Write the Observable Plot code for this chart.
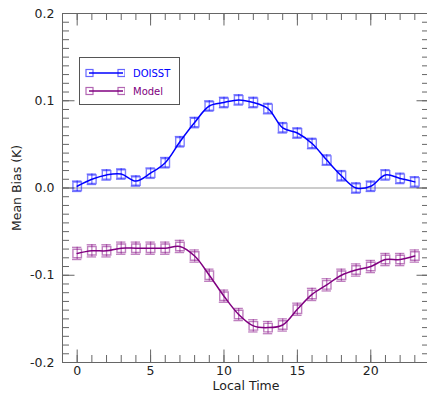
<!DOCTYPE html>
<html>
<head>
<meta charset="utf-8">
<script src="https://cdn.jsdelivr.net/npm/d3@7"></script>
<script src="https://cdn.jsdelivr.net/npm/@observablehq/plot@0.6"></script>
<style>
  html, body { margin: 0; padding: 0; background: #fff; overflow: hidden; }
  #wrap { position: relative; width: 427px; height: 397px; }
  #legend { position: absolute; left: 79px; top: 57px; width: 99px; height: 46px;
    border: 1px solid #555; background: #fff; font-family: "DejaVu Sans", sans-serif; font-size: 10px; }
  .row { position: absolute; left: 0; height: 12px; display: flex; align-items: center; }
  .row svg { display: block; }
  .row span { margin-left: 8px; }
</style>
</head>
<body>
<div id="wrap"></div>
<script>
const hours = [0,1,2,3,4,5,6,7,8,9,10,11,12,13,14,15,16,17,18,19,20,21,22,23];
const doisst = [0.002,0.010,0.015,0.016,0.008,0.017,0.029,0.053,0.075,0.094,0.098,0.101,0.098,0.091,0.069,0.063,0.051,0.032,0.014,0.000,0.002,0.015,0.011,0.007];
const model = [-0.075,-0.072,-0.072,-0.069,-0.069,-0.069,-0.069,-0.067,-0.078,-0.100,-0.124,-0.145,-0.158,-0.160,-0.157,-0.139,-0.122,-0.111,-0.100,-0.094,-0.090,-0.082,-0.082,-0.078];
const doisstErr = 0.006;
const modelErr = 0.007;
const seriesNames = ["DOISST", "Model"];
const seriesColors = ["#0000ff", "#800080"];
const yMajor = [-0.2,-0.1,0,0.1,0.2];
const yMinor = d3.range(-20, 21).map(i => i / 100);
const xMajor = [0,5,10,15,20];
const xMinor = hours;

const W = 427, H = 397, mL = 62, mR = -2, mT = 13, mB = 35;
const fw = W - mL - mR, fh = H - mT - mB;
const majLen = 12.5, minLen = 7;

const ds = hours.map((h, i) => ({h, v: doisst[i], e: doisstErr}));
const ms = hours.map((h, i) => ({h, v: model[i], e: modelErr}));
const capHalf = 0.32;
const tickColor = "#666";

function seriesMarks(data, color) {
  return [
    Plot.ruleX(data, {x: "h", y1: d => d.v - d.e, y2: d => d.v + d.e, stroke: color, strokeOpacity: 0.5, strokeWidth: 1.3}),
    Plot.ruleY(data, {y: d => d.v - d.e, x1: d => d.h - capHalf, x2: d => d.h + capHalf, stroke: color, strokeOpacity: 0.5, strokeWidth: 1.3}),
    Plot.ruleY(data, {y: d => d.v + d.e, x1: d => d.h - capHalf, x2: d => d.h + capHalf, stroke: color, strokeOpacity: 0.5, strokeWidth: 1.3}),
    Plot.dot(data, {x: "h", y: "v", symbol: "square", r: 4.8, stroke: color, strokeOpacity: 0.5, strokeWidth: 1.4, fill: "none"}),
    Plot.line(data, {x: "h", y: "v", stroke: color, strokeWidth: 1.5, curve: "catmull-rom"})
  ];
}

const chart = Plot.plot({
  width: W, height: H,
  marginLeft: mL, marginRight: mR, marginTop: mT, marginBottom: mB,
  style: {fontFamily: "DejaVu Sans, sans-serif", fontSize: "12px", color: "#222", background: "#fff"},
  x: {domain: [-1, 24]},
  y: {domain: [-0.2, 0.2]},
  marks: [
    Plot.ruleY([0], {stroke: "#999", strokeWidth: 1}),
    Plot.tickY(yMinor, {y: d => d, insetRight: fw - minLen, stroke: tickColor}),
    Plot.tickY(yMajor, {y: d => d, insetRight: fw - majLen, stroke: tickColor}),
    Plot.tickY(yMinor, {y: d => d, insetLeft: fw - minLen, stroke: tickColor}),
    Plot.tickY(yMajor, {y: d => d, insetLeft: fw - majLen, stroke: tickColor}),
    Plot.tickX(xMinor, {x: d => d, insetBottom: fh - minLen, stroke: tickColor}),
    Plot.tickX(xMajor, {x: d => d, insetBottom: fh - majLen, stroke: tickColor}),
    Plot.tickX(xMinor, {x: d => d, insetTop: fh - minLen, stroke: tickColor}),
    Plot.tickX(xMajor, {x: d => d, insetTop: fh - majLen, stroke: tickColor}),
    Plot.axisY(yMajor, {anchor: "left", tickSize: 0, tickPadding: 8, tickFormat: d => d.toFixed(1), label: null, fontSize: 12.5}),
    Plot.axisX(xMajor, {anchor: "bottom", tickSize: 0, tickPadding: 4, tickFormat: d => String(d), label: null, fontSize: 12.5}),
    Plot.text(["Mean Bias (K)"], {frameAnchor: "left", dx: -46, rotate: -90, textAnchor: "middle", lineAnchor: "middle", fontSize: 12.5, fill: "#222"}),
    Plot.text(["Local Time"], {frameAnchor: "bottom", dy: 23, textAnchor: "middle", lineAnchor: "middle", fontSize: 12.5, fill: "#222"}),
    ...seriesMarks(ms, seriesColors[1]),
    ...seriesMarks(ds, seriesColors[0]),
    Plot.frame({stroke: "#666"})
  ]
});

const wrap = document.getElementById("wrap");
wrap.appendChild(chart);

const legend = document.createElement("div");
legend.id = "legend";
seriesNames.forEach((name, i) => {
  const row = document.createElement("div");
  row.className = "row";
  row.style.top = (i === 0 ? 9 : 27) + "px";
  row.style.left = "5px";
  const c = seriesColors[i];
  row.innerHTML = `<svg width="40" height="12">
    <line x1="4" y1="6" x2="38" y2="6" stroke="${c}" stroke-width="1.5"/>
    <rect x="1" y="2.5" width="7" height="7" fill="none" stroke="${c}" stroke-opacity="0.6" stroke-width="1.2"/>
    <rect x="33" y="2.5" width="7" height="7" fill="none" stroke="${c}" stroke-opacity="0.6" stroke-width="1.2"/>
  </svg><span style="color:${c}">${name}</span>`;
  legend.appendChild(row);
});
wrap.appendChild(legend);
</script>
</body>
</html>
